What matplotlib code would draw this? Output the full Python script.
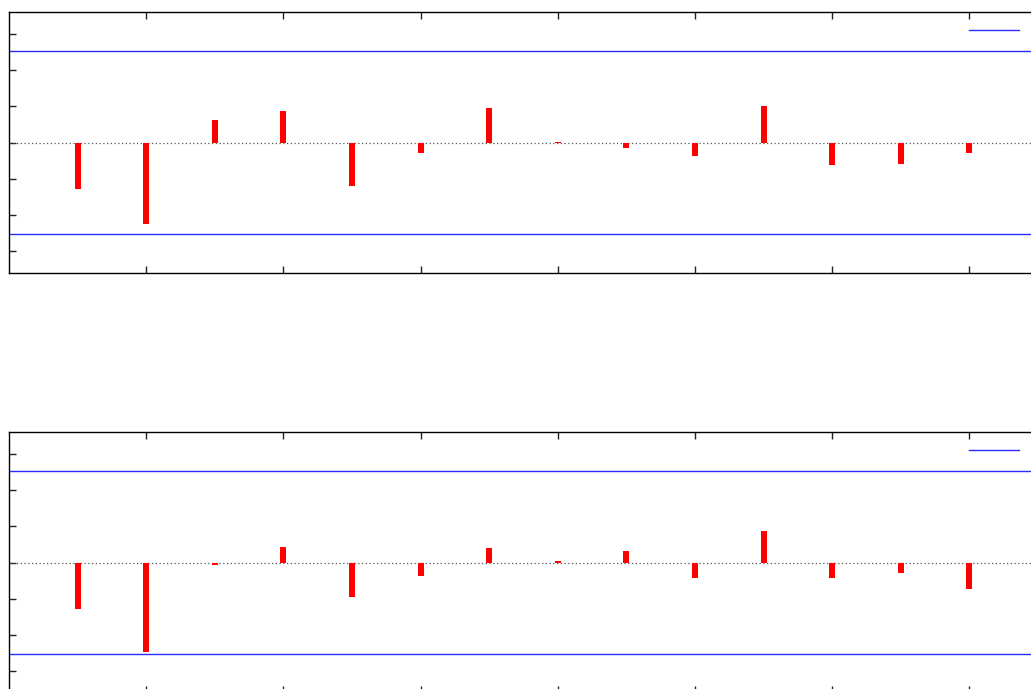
import matplotlib
matplotlib.use("Agg")
import matplotlib.pyplot as plt
from matplotlib.lines import Line2D

lags = list(range(1, 15))
acf_values = [-0.127, -0.224, 0.061, 0.088, -0.119, -0.030, 0.094, 0.002,
              -0.014, -0.036, 0.102, -0.061, -0.058, -0.028]
pacf_values = [-0.127, -0.246, -0.006, 0.044, -0.094, -0.036, 0.039, 0.005,
               0.033, -0.044, 0.088, -0.044, -0.030, -0.072]
conf_bound = 0.253
x_ticks = [2, 4, 6, 8, 10, 12, 14]
y_ticks = [-0.3, -0.2, -0.1, 0.0, 0.1, 0.2, 0.3]

W, H = 1031, 689
fig = plt.figure(figsize=(W / 100, H / 100), dpi=100)

def make_axes(top_px, values):
    left_px, right_px, height_px = 9, 1038, 261
    ax = fig.add_axes([left_px / W, (H - top_px - height_px) / H,
                       (right_px - left_px) / W, height_px / H])
    ax.set_xlim(0, 15)
    ax.set_ylim(-0.36, 0.36)
    ax.bar(lags, values, width=0.085, color="#ff0000", zorder=3)
    ax.axhline(0, color="#555555", linestyle=(0, (1, 2)), linewidth=0.9, zorder=2)
    ax.axhline(conf_bound, color="#2a2aff", linewidth=1.0, zorder=2)
    ax.axhline(-conf_bound, color="#2a2aff", linewidth=1.0, zorder=2)
    ax.set_xticks(x_ticks)
    ax.set_yticks(y_ticks)
    ax.set_xticklabels([])
    ax.set_yticklabels([])
    ax.tick_params(direction="in", length=5, width=1, top=True, right=False,
                   color="#222222")
    for s in ax.spines.values():
        s.set_linewidth(1.0)
    handle = Line2D([], [], color="#2a2aff", linewidth=1.0)
    ax.legend([handle], [""], loc="upper left", frameon=False,
              bbox_to_anchor=(969 / W, 1 - (top_px + 12) / H),
              bbox_transform=fig.transFigure, borderpad=0, borderaxespad=0,
              handlelength=3.6, handletextpad=0, fontsize=10)
    return ax

make_axes(12, acf_values)
make_axes(432, pacf_values)

fig.savefig("out.png", dpi=100)
